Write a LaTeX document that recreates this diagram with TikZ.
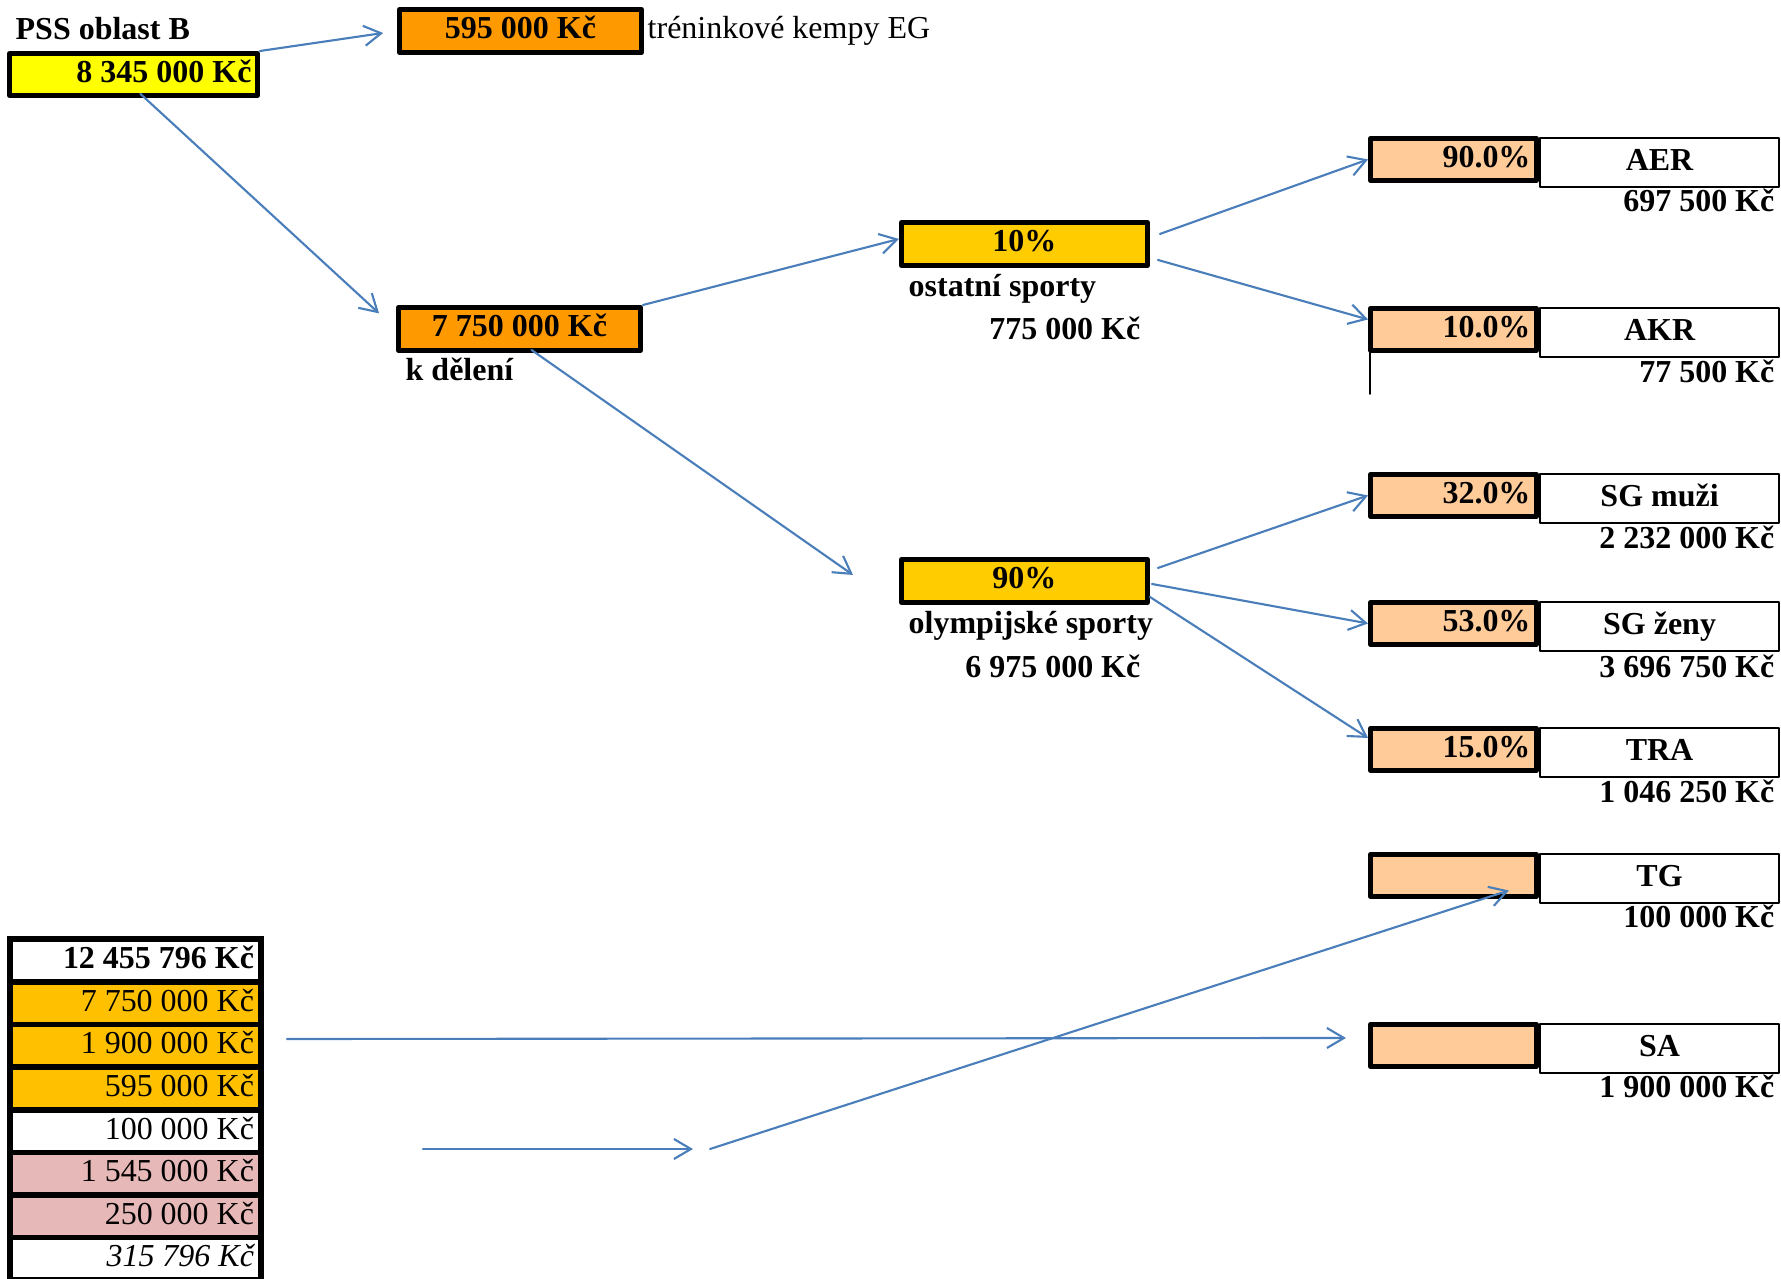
\documentclass[tikz,border=0pt]{standalone}
\usepackage{fontspec}
\setmainfont{Liberation Serif}[Scale=0.91]
\usetikzlibrary{arrows.meta}

\definecolor{sumyellow}{HTML}{FFFF00}
\definecolor{boxorange}{HTML}{FF9900}
\definecolor{sharegold}{HTML}{FFCC00}
\definecolor{peach}{HTML}{FFCC99}
\definecolor{tabgold}{HTML}{FFC000}
\definecolor{tabpink}{HTML}{E6B8B7}
\definecolor{arrowblue}{HTML}{4A7EBB}

\tikzset{
  box/.style={draw, line width=1.4pt, minimum height=0.43cm, inner sep=0.06cm,
    text height=0.22cm, text depth=0.06cm, font=\bfseries, anchor=north west},
  pctcell/.style={box, fill=peach, minimum width=1.66cm, minimum height=0.42cm,
    text width=1.54cm, align=flush right},
  namecell/.style={draw, line width=0.6pt, minimum width=2.39cm, minimum height=0.42cm,
    text height=0.22cm, text depth=0.06cm, font=\bfseries, anchor=north west},
  amount/.style={font=\bfseries, anchor=base east, inner sep=0pt},
  note/.style={anchor=base west, inner sep=0pt},
  tabcell/.style={minimum width=2.45cm, minimum height=0.37cm, text width=2.37cm,
    align=flush right, inner sep=0.04cm, outer sep=0pt, text height=0.22cm, text depth=0.06cm,
    anchor=north west},
  flow/.style={draw=arrowblue, line width=0.6pt, -{Straight Barb[length=0.17cm, width=0.2cm]}}
}

\begin{document}
\begin{tikzpicture}[line cap=round, line join=round]

\useasboundingbox (0,0) rectangle (17.81,-12.79);

% Top left
\node[note, font=\bfseries] (title) at (0.15,-0.40) {PSS oblast B};
\node[box, fill=sumyellow, minimum width=2.48cm, minimum height=0.42cm, text width=2.36cm, align=flush right] (sum) at (0.07,-0.51) {8 345 000 Kč};

\node[box, fill=boxorange, minimum width=2.42cm] (camp) at (3.97,-0.07) {595 000 Kč};
\node[note] (campl) at (6.47,-0.39) {tréninkové kempy EG};

\node[box, fill=boxorange, minimum width=2.42cm] (split) at (3.96,-3.05) {7 750 000 Kč};
\node[note, font=\bfseries] (splitl) at (4.05,-3.80) {k dělení};

% Shares
\node[box, fill=sharegold, minimum width=2.46cm] (other) at (8.99,-2.20) {10\%};
\node[note, font=\bfseries] (otherl) at (9.08,-2.96) {ostatní sporty};
\node[amount] (othera) at (11.41,-3.39) {775 000 Kč};

\node[box, fill=sharegold, minimum width=2.46cm] (olymp) at (8.99,-5.57) {90\%};
\node[note, font=\bfseries] (olympl) at (9.08,-6.33) {olympijské sporty};
\node[amount] (olympa) at (11.41,-6.77) {6 975 000 Kč};

% Sports
\node[namecell] (aer) at (15.39,-1.37) {AER};
\node[pctcell] (aerp) at (13.68,-1.36) {90.0\%};
\node[amount] (aera) at (17.75,-2.11) {697 500 Kč};

\node[namecell] (akr) at (15.39,-3.07) {AKR};
\node[pctcell] (akrp) at (13.68,-3.06) {10.0\%};
\node[amount] (akra) at (17.75,-3.82) {77 500 Kč};
\draw[line width=0.6pt] ([xshift=0.02cm]akrp.south west) -- ++(0,-0.41);

\node[namecell] (muz) at (15.39,-4.73) {SG muži};
\node[pctcell] (muzp) at (13.68,-4.72) {32.0\%};
\node[amount] (muza) at (17.75,-5.48) {2 232 000 Kč};

\node[namecell] (zen) at (15.39,-6.01) {SG ženy};
\node[pctcell] (zenp) at (13.68,-6.00) {53.0\%};
\node[amount] (zena) at (17.75,-6.77) {3 696 750 Kč};

\node[namecell] (tra) at (15.39,-7.27) {TRA};
\node[pctcell] (trap) at (13.68,-7.26) {15.0\%};
\node[amount] (traa) at (17.75,-8.02) {1 046 250 Kč};

\node[namecell] (tg) at (15.39,-8.53) {TG};
\node[pctcell] (tgp) at (13.68,-8.52) {};
\node[amount] (tga) at (17.75,-9.27) {100 000 Kč};

\node[namecell] (sa) at (15.39,-10.23) {SA};
\node[pctcell] (sap) at (13.68,-10.22) {};
\node[amount] (saa) at (17.75,-10.97) {1 900 000 Kč};

% Table
\fill (0.07,-9.36) rectangle (2.64,-12.79);
\node[tabcell, fill=white, font=\bfseries] (t1) at (0.13,-9.42) {12 455 796 Kč};
\node[tabcell, fill=tabgold] (t2) at (0.13,-9.85) {7 750 000 Kč};
\node[tabcell, fill=tabgold] (t3) at (0.13,-10.27) {1 900 000 Kč};
\node[tabcell, fill=tabgold] (t4) at (0.13,-10.70) {595 000 Kč};
\node[tabcell, fill=white] (t5) at (0.13,-11.13) {100 000 Kč};
\node[tabcell, fill=tabpink] (t6) at (0.13,-11.55) {1 545 000 Kč};
\node[tabcell, fill=tabpink] (t7) at (0.13,-11.98) {250 000 Kč};
\node[tabcell, fill=white, font=\itshape] (t8) at (0.13,-12.40) {315 796 Kč};

% Arrows
\draw[flow, shorten >=0.14cm] (sum.north east) -- (camp.west);
\draw[flow, shorten >=0.23cm] ([xshift=0.07cm,yshift=0.04cm]sum.south) -- (split.west);
\draw[flow] (split.north east) -- ([yshift=0.05cm]other.west);
\draw[flow] ([xshift=0.12cm,yshift=0.03cm]split.south) -- ([xshift=-0.46cm,yshift=0.06cm]olymp.west);
\draw[flow] ([xshift=0.1cm,yshift=0.1cm]other.east) -- (aerp.west);
\draw[flow] ([xshift=0.08cm,yshift=-0.16cm]other.east) -- ([yshift=0.1cm]akrp.west);
\draw[flow] ([xshift=0.08cm,yshift=0.13cm]olymp.east) -- (muzp.west);
\draw[flow] ([xshift=0.02cm,yshift=-0.03cm]olymp.east) -- (zenp.west);
\draw[flow] ([yshift=-0.16cm]olymp.east) -- ([yshift=0.115cm]trap.west);
\draw[flow] ([xshift=0.29cm,yshift=0.065cm]t3.east) -- ([xshift=-0.22cm,yshift=0.075cm]sap.west);

\coordinate (tgin) at (4.23,-11.49);
\coordinate (tgmid) at (6.93,-11.49);
\coordinate (tgout) at (7.10,-11.49);
\draw[flow] (tgin) -- (tgmid);
\draw[flow] (tgout) -- ([xshift=-0.30cm,yshift=-0.15cm]tgp.east);

\end{tikzpicture}
\end{document}
